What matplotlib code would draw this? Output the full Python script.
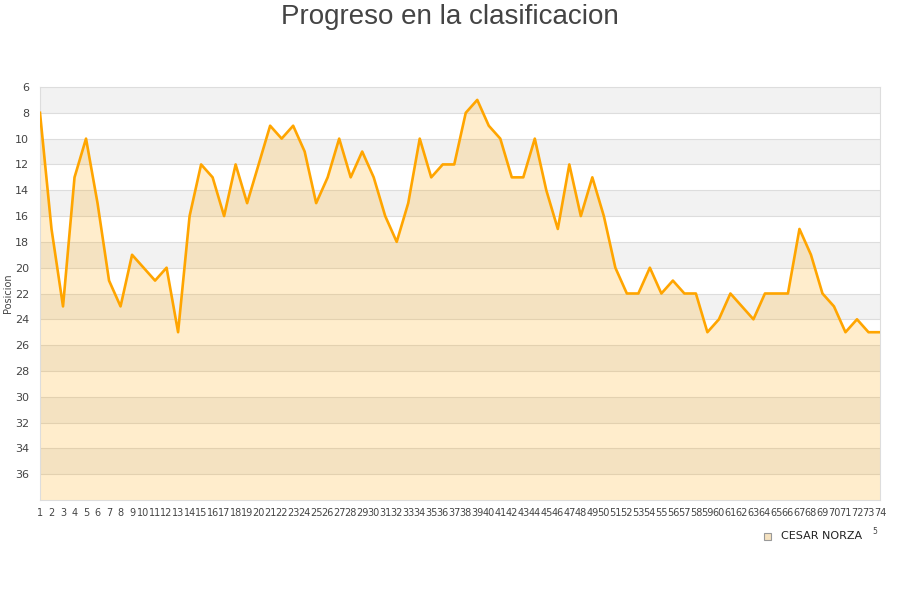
import matplotlib.pyplot as plt

# jornadas 1..74 y posicion en la clasificacion
jornadas = list(range(1, 75))
posicion = [8, 17, 23, 13, 10, 15, 21, 23, 19, 20,
            21, 20, 25, 16, 12, 13, 16, 12, 15, 12,
            9, 10, 9, 11, 15, 13, 10, 13, 11, 13,
            16, 18, 15, 10, 13, 12, 12, 8, 7, 9,
            10, 13, 13, 10, 14, 17, 12, 16, 13, 16,
            20, 22, 22, 20, 22, 21, 22, 22, 25, 24,
            22, 23, 24, 22, 22, 22, 17, 19, 22, 23,
            25, 24, 25, 25]
jugador = "CESAR NORZA"
y_ticks = list(range(6, 37, 2))

plt.rcParams['font.family'] = ['DejaVu Sans']

fig = plt.figure(figsize=(9, 6), dpi=100)
ax = fig.add_axes([40 / 900, 100 / 600, 840 / 900, 413 / 600])

# bandas alternas de fondo
for lo in range(6, 38, 4):
    ax.axhspan(lo, lo + 2, color='#f2f2f2', lw=0, zorder=0)
for yv in range(8, 38, 2):
    ax.axhline(yv, color='#dddddd', lw=0.8, zorder=1)

ax.fill_between(jornadas, posicion, 38, color='#ffa500', alpha=0.2, lw=0, zorder=2)
ax.plot(jornadas, posicion, color='#ffa500', lw=1.9, zorder=3)

ax.set_xlim(1, 74)
ax.set_ylim(38, 6)
ax.set_yticks(y_ticks)
ax.set_xticks(jornadas)
ax.set_xticklabels([str(j) for j in jornadas], fontsize=7, color='#444444')
ax.tick_params(axis='y', labelsize=8, colors='#444444', length=0, pad=8)
ax.tick_params(axis='x', length=0, pad=6)
for s in ax.spines.values():
    s.set_color('#dddddd')
    s.set_linewidth(0.8)

fig.text(8.5 / 900, 1 - 293 / 600, "Posicion", fontsize=7, color='#444444',
         rotation=90, ha='center', va='center')
fig.suptitle("Progreso en la clasificacion", fontsize=20, color='#444444', y=0.993,
             family=['Liberation Sans', 'DejaVu Sans'])

# leyenda
fig.patches.append(plt.Rectangle((763.5 / 900, 1 - 540 / 600), 7 / 900, 7 / 600,
                                 transform=fig.transFigure, facecolor='#f5e2c0',
                                 edgecolor='#999999', lw=0.8))
fig.text(781 / 900, 1 - 536 / 600, jugador, fontsize=8, color='#222222',
         ha='left', va='center')
fig.text(875 / 900, 1 - 532 / 600, "5", fontsize=5.5, color='#444444',
         ha='center', va='center')

fig.savefig("out.png", dpi=100)
